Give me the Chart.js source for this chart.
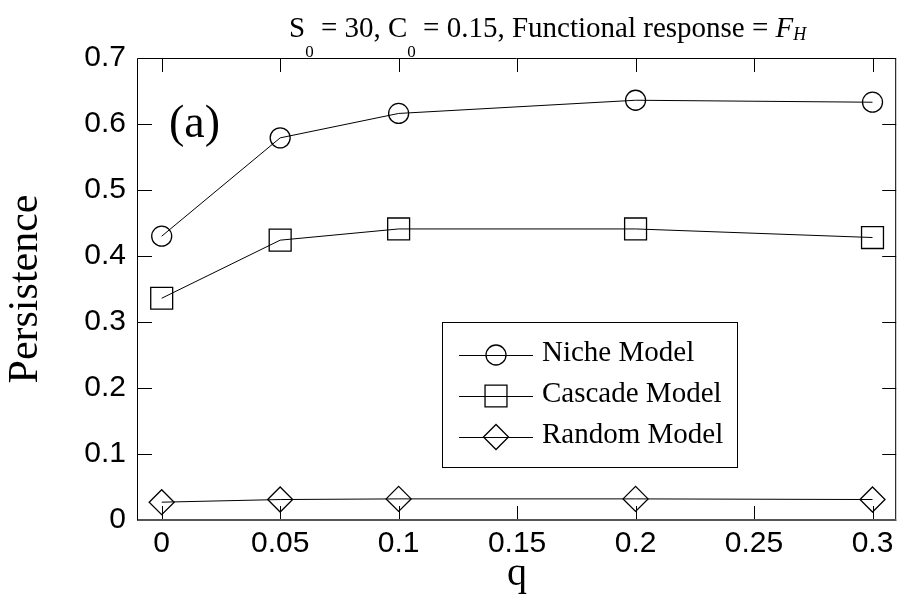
<!DOCTYPE html>
<html>
<head>
<meta charset="utf-8">
<script src="https://cdn.jsdelivr.net/npm/chart.js@4.4.0/dist/chart.umd.min.js"></script>
<style>
body { margin: 0; background: #fff; }
canvas { display: block; }
</style>
</head>
<body>
<canvas id="persistChart" width="913" height="604"></canvas>
<script>
const qValues = [0, 0.05, 0.1, 0.2, 0.3];
const nicheModel = [0.430, 0.579, 0.616, 0.636, 0.633];
const cascadeModel = [0.336, 0.424, 0.441, 0.441, 0.428];
const randomModel = [0.027, 0.031, 0.032, 0.032, 0.031];
const seriesNames = ["Niche Model", "Cascade Model", "Random Model"];
const xTicks = [0, 0.05, 0.1, 0.15, 0.2, 0.25, 0.3];
const yTicks = [0, 0.1, 0.2, 0.3, 0.4, 0.5, 0.6, 0.7];

function toPoints(vals) {
    return qValues.map((q, i) => ({ x: q, y: vals[i] }));
}

const serif = "'Liberation Serif', 'Times New Roman', serif";
const sans = "'Liberation Sans', Arial, sans-serif";

// inward ticks on all four sides + box frame
const frameTicks = {
    id: "frameTicks",
    afterDatasetsDraw(chart) {
        const { ctx, chartArea: a, scales } = chart;
        const len = 14;
        ctx.save();
        ctx.strokeStyle = "#000";
        ctx.lineWidth = 1;
        ctx.beginPath();
        ctx.rect(a.left - 0.5, a.top + 0.5, a.right - a.left, a.bottom - a.top);
        xTicks.forEach(v => {
            const px = Math.round(scales.x.getPixelForValue(v)) + 0.5;
            ctx.moveTo(px, a.bottom); ctx.lineTo(px, a.bottom - len);
            ctx.moveTo(px, a.top); ctx.lineTo(px, a.top + len);
        });
        yTicks.forEach(v => {
            const py = Math.round(scales.y.getPixelForValue(v)) + 0.5;
            ctx.moveTo(a.left, py); ctx.lineTo(a.left + len, py);
            ctx.moveTo(a.right, py); ctx.lineTo(a.right - len, py);
        });
        ctx.stroke();
        ctx.lineWidth = 2;
        ctx.strokeStyle = "#555";
        ctx.beginPath();
        ctx.moveTo(a.left, a.bottom); ctx.lineTo(a.right, a.bottom);
        ctx.stroke();
        ctx.restore();
    }
};

// title with subscripts, panel label and boxed legend
const annotations = {
    id: "annotations",
    afterDraw(chart) {
        const ctx = chart.ctx;
        ctx.save();
        ctx.fillStyle = "#000";
        ctx.textBaseline = "alphabetic";

        const parts = [
            { t: "S", f: "29px " + serif, dy: 0 },
            { t: "0", f: "17px " + serif, dy: 20 },
            { t: " = 30, C", f: "29px " + serif, dy: 0 },
            { t: "0", f: "17px " + serif, dy: 20 },
            { t: " = 0.15, Functional response = ", f: "29px " + serif, dy: 0 },
            { t: "F", f: "italic 29px " + serif, dy: 0 },
            { t: "H", f: "italic 18px " + serif, dy: 3 }
        ];
        let x = 289;
        parts.forEach(p => {
            ctx.font = p.f;
            ctx.fillText(p.t, x, 37 + p.dy);
            x += ctx.measureText(p.t).width;
        });

        ctx.font = "46px " + serif;
        ctx.fillText("(a)", 169, 137);

        // legend
        const box = { left: 442, top: 322, right: 737, bottom: 467 };
        ctx.lineWidth = 1;
        ctx.strokeStyle = "#000";
        ctx.strokeRect(box.left + 0.5, box.top + 0.5, box.right - box.left, box.bottom - box.top);
        const rows = [355, 396, 437];
        chart.data.datasets.forEach((ds, i) => {
            const y = rows[i];
            ctx.beginPath();
            ctx.lineWidth = 1;
            ctx.moveTo(459, y + 0.5); ctx.lineTo(533, y + 0.5);
            ctx.stroke();
            ctx.fillStyle = "rgba(0,0,0,0)";
            ctx.lineWidth = ds.pointBorderWidth;
            Chart.helpers.drawPoint(ctx, {
                pointStyle: ds.pointStyle,
                radius: ds.pointRadius,
                rotation: 0,
                borderWidth: ds.pointBorderWidth
            }, 496, y);
            ctx.fillStyle = "#000";
            ctx.font = "29px " + serif;
            ctx.textBaseline = "middle";
            ctx.fillText(ds.label, 542, y - 2);
        });
        ctx.restore();
    }
};

const styles = [
    { pointStyle: "circle", pointRadius: 10 },
    { pointStyle: "rect", pointRadius: 15.5 },
    { pointStyle: "rectRot", pointRadius: 12.5 }
];
const seriesData = [nicheModel, cascadeModel, randomModel];

const datasets = seriesData.map((vals, i) => ({
    label: seriesNames[i],
    data: toPoints(vals),
    borderColor: "#000",
    borderWidth: 1,
    pointStyle: styles[i].pointStyle,
    pointRadius: styles[i].pointRadius,
    pointHoverRadius: styles[i].pointRadius,
    pointBorderColor: "#000",
    pointBackgroundColor: "rgba(0,0,0,0)",
    pointBorderWidth: 1.3,
    fill: false,
    tension: 0,
    clip: false
}));

const ctx = document.getElementById("persistChart");
const chart = new Chart(ctx, {
    type: "line",
    data: { datasets },
    plugins: [frameTicks, annotations],
    options: {
        responsive: false,
        animation: false,
        devicePixelRatio: 1,
        layout: { padding: { left: 0, right: 7, top: 58, bottom: 0 } },
        plugins: {
            legend: { display: false },
            title: { display: false },
            tooltip: { enabled: false }
        },
        scales: {
            x: {
                type: "linear",
                min: -0.01,
                max: 0.31,
                grid: { display: false, drawTicks: false },
                border: { display: false },
                afterBuildTicks: s => { s.ticks = xTicks.map(v => ({ value: v })); },
                afterFit: s => { s.height = 84; },
                ticks: {
                    color: "#000",
                    padding: 6,
                    maxRotation: 0,
                    autoSkip: false,
                    font: { family: sans, size: 30 },
                    callback: v => String(+v.toFixed(2))
                },
                title: {
                    display: true,
                    text: "q",
                    color: "#000",
                    padding: 6,
                    font: { family: serif, size: 40 }
                }
            },
            y: {
                type: "linear",
                min: 0,
                max: 0.7,
                grid: { display: false, drawTicks: false },
                border: { display: false },
                afterBuildTicks: s => { s.ticks = yTicks.map(v => ({ value: v })); },
                afterFit: s => { s.width = 138; },
                ticks: {
                    color: "#000",
                    padding: 12,
                    autoSkip: false,
                    font: { family: sans, size: 30 },
                    callback: v => String(+v.toFixed(2))
                },
                title: {
                    display: true,
                    text: "Persistence",
                    color: "#000",
                    padding: 1,
                    font: { family: serif, size: 42 }
                }
            }
        }
    }
});
</script>
</body>
</html>
